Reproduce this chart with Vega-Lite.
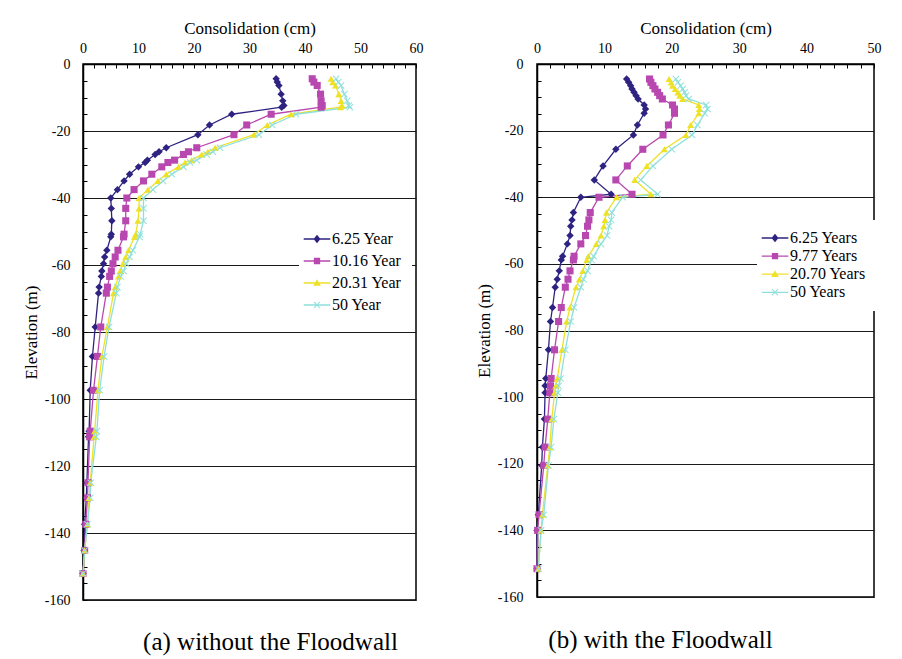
{
 "$schema": "https://vega.github.io/schema/vega-lite/v6.json",
 "background": "white",
 "padding": {"left": 21, "top": 18, "right": 5, "bottom": 5},
 "spacing": 50,
 "config": {
  "view": {"stroke": "black", "strokeWidth": 1.5},
  "font": "Liberation Serif",
  "axis": {"labelFont": "Liberation Serif", "titleFont": "Liberation Serif", "labelFontSize": 14, "titleFontSize": 17, "titleFontWeight": "normal", "labelColor": "black", "titleColor": "black", "tickColor": "black", "tickWidth": 1, "domainColor": "black", "domainWidth": 1.5, "labelFlush": false, "labelOverlap": false, "labelBound": false, "gridColor": "#1a1a1a", "gridWidth": 1},
  "legend": {"labelFont": "Liberation Serif", "labelFontSize": 16, "labelColor": "black"},
  "title": {"font": "Liberation Serif", "fontSize": 25, "fontWeight": "normal", "color": "black"}
 },
 "resolve": {"scale": {"x": "independent", "y": "independent", "color": "independent", "shape": "independent", "fill": "independent", "stroke": "independent"}, "legend": {"color": "independent", "shape": "independent"}},
 "datasets": {
  "a": [
   {"s":"6.25 Year","x":34.8,"e":-4.4},{"s":"6.25 Year","x":35.0,"e":-5.4},{"s":"6.25 Year","x":35.3,"e":-6.4},{"s":"6.25 Year","x":35.7,"e":-9.0},{"s":"6.25 Year","x":36.0,"e":-11.0},{"s":"6.25 Year","x":36.2,"e":-12.4},{"s":"6.25 Year","x":35.8,"e":-12.9},{"s":"6.25 Year","x":26.8,"e":-15.0},{"s":"6.25 Year","x":22.8,"e":-18.2},{"s":"6.25 Year","x":20.7,"e":-21.1},{"s":"6.25 Year","x":15.0,"e":-25.0},{"s":"6.25 Year","x":13.7,"e":-26.2},{"s":"6.25 Year","x":13.0,"e":-27.0},{"s":"6.25 Year","x":11.6,"e":-28.7},{"s":"6.25 Year","x":11.2,"e":-29.4},{"s":"6.25 Year","x":10.0,"e":-30.7},{"s":"6.25 Year","x":8.4,"e":-32.9},{"s":"6.25 Year","x":7.4,"e":-34.9},{"s":"6.25 Year","x":6.2,"e":-37.5},{"s":"6.25 Year","x":5.0,"e":-40.0},{"s":"6.25 Year","x":5.1,"e":-43.1},{"s":"6.25 Year","x":5.2,"e":-46.8},{"s":"6.25 Year","x":5.1,"e":-50.8},{"s":"6.25 Year","x":5.0,"e":-51.6},{"s":"6.25 Year","x":4.3,"e":-55.6},{"s":"6.25 Year","x":3.9,"e":-57.6},{"s":"6.25 Year","x":3.7,"e":-59.6},{"s":"6.25 Year","x":3.4,"e":-61.8},{"s":"6.25 Year","x":3.3,"e":-63.4},{"s":"6.25 Year","x":2.9,"e":-66.6},{"s":"6.25 Year","x":2.8,"e":-68.4},{"s":"6.25 Year","x":2.2,"e":-78.5},{"s":"6.25 Year","x":1.7,"e":-87.3},{"s":"6.25 Year","x":1.3,"e":-97.4},{"s":"6.25 Year","x":1.1,"e":-109.6},{"s":"6.25 Year","x":1.0,"e":-111.3},{"s":"6.25 Year","x":0.7,"e":-125.0},{"s":"6.25 Year","x":0.6,"e":-129.5},{"s":"6.25 Year","x":0.3,"e":-137.4},{"s":"6.25 Year","x":0.2,"e":-145.2},{"s":"6.25 Year","x":0.0,"e":-152.1},
   {"s":"10.16 Year","x":41.3,"e":-4.4},{"s":"10.16 Year","x":41.6,"e":-5.4},{"s":"10.16 Year","x":42.2,"e":-6.4},{"s":"10.16 Year","x":42.8,"e":-9.0},{"s":"10.16 Year","x":42.9,"e":-11.0},{"s":"10.16 Year","x":43.1,"e":-12.4},{"s":"10.16 Year","x":42.9,"e":-12.9},{"s":"10.16 Year","x":33.9,"e":-15.0},{"s":"10.16 Year","x":29.5,"e":-18.2},{"s":"10.16 Year","x":27.2,"e":-21.1},{"s":"10.16 Year","x":20.5,"e":-25.0},{"s":"10.16 Year","x":19.0,"e":-26.2},{"s":"10.16 Year","x":18.1,"e":-27.0},{"s":"10.16 Year","x":16.5,"e":-28.7},{"s":"10.16 Year","x":15.3,"e":-29.4},{"s":"10.16 Year","x":14.2,"e":-30.7},{"s":"10.16 Year","x":12.4,"e":-32.9},{"s":"10.16 Year","x":10.9,"e":-34.9},{"s":"10.16 Year","x":9.2,"e":-37.5},{"s":"10.16 Year","x":7.9,"e":-40.0},{"s":"10.16 Year","x":7.7,"e":-43.1},{"s":"10.16 Year","x":7.7,"e":-46.8},{"s":"10.16 Year","x":7.4,"e":-50.8},{"s":"10.16 Year","x":7.3,"e":-51.6},{"s":"10.16 Year","x":6.3,"e":-55.6},{"s":"10.16 Year","x":5.8,"e":-57.6},{"s":"10.16 Year","x":5.4,"e":-59.6},{"s":"10.16 Year","x":5.1,"e":-61.8},{"s":"10.16 Year","x":4.8,"e":-63.4},{"s":"10.16 Year","x":4.4,"e":-66.6},{"s":"10.16 Year","x":4.2,"e":-68.4},{"s":"10.16 Year","x":3.2,"e":-78.5},{"s":"10.16 Year","x":2.6,"e":-87.3},{"s":"10.16 Year","x":1.9,"e":-97.4},{"s":"10.16 Year","x":1.3,"e":-109.6},{"s":"10.16 Year","x":1.2,"e":-111.3},{"s":"10.16 Year","x":0.9,"e":-125.0},{"s":"10.16 Year","x":0.8,"e":-129.5},{"s":"10.16 Year","x":0.5,"e":-137.4},{"s":"10.16 Year","x":0.3,"e":-145.2},{"s":"10.16 Year","x":0.0,"e":-152.1},
   {"s":"20.31 Year","x":44.7,"e":-4.4},{"s":"20.31 Year","x":45.0,"e":-5.4},{"s":"20.31 Year","x":45.5,"e":-6.4},{"s":"20.31 Year","x":46.1,"e":-9.0},{"s":"20.31 Year","x":46.5,"e":-11.0},{"s":"20.31 Year","x":46.7,"e":-12.4},{"s":"20.31 Year","x":46.4,"e":-12.9},{"s":"20.31 Year","x":37.5,"e":-15.0},{"s":"20.31 Year","x":33.2,"e":-18.2},{"s":"20.31 Year","x":30.8,"e":-21.1},{"s":"20.31 Year","x":23.8,"e":-25.0},{"s":"20.31 Year","x":22.5,"e":-26.2},{"s":"20.31 Year","x":21.4,"e":-27.0},{"s":"20.31 Year","x":19.6,"e":-28.7},{"s":"20.31 Year","x":18.4,"e":-29.4},{"s":"20.31 Year","x":17.2,"e":-30.7},{"s":"20.31 Year","x":15.0,"e":-32.9},{"s":"20.31 Year","x":13.5,"e":-34.9},{"s":"20.31 Year","x":11.7,"e":-37.5},{"s":"20.31 Year","x":10.1,"e":-40.0},{"s":"20.31 Year","x":10.1,"e":-43.1},{"s":"20.31 Year","x":9.9,"e":-46.8},{"s":"20.31 Year","x":9.5,"e":-50.8},{"s":"20.31 Year","x":9.3,"e":-51.6},{"s":"20.31 Year","x":8.2,"e":-55.6},{"s":"20.31 Year","x":7.7,"e":-57.6},{"s":"20.31 Year","x":7.2,"e":-59.6},{"s":"20.31 Year","x":6.7,"e":-61.8},{"s":"20.31 Year","x":6.4,"e":-63.4},{"s":"20.31 Year","x":5.8,"e":-66.6},{"s":"20.31 Year","x":5.5,"e":-68.4},{"s":"20.31 Year","x":4.4,"e":-78.5},{"s":"20.31 Year","x":3.4,"e":-87.3},{"s":"20.31 Year","x":2.7,"e":-97.4},{"s":"20.31 Year","x":2.1,"e":-109.6},{"s":"20.31 Year","x":2.0,"e":-111.3},{"s":"20.31 Year","x":1.3,"e":-125.0},{"s":"20.31 Year","x":1.1,"e":-129.5},{"s":"20.31 Year","x":0.8,"e":-137.4},{"s":"20.31 Year","x":0.3,"e":-145.2},{"s":"20.31 Year","x":0.0,"e":-152.1},
   {"s":"50 Year","x":45.6,"e":-4.4},{"s":"50 Year","x":46.0,"e":-5.4},{"s":"50 Year","x":46.5,"e":-6.4},{"s":"50 Year","x":47.1,"e":-9.0},{"s":"50 Year","x":47.6,"e":-11.0},{"s":"50 Year","x":47.9,"e":-12.4},{"s":"50 Year","x":48.1,"e":-12.9},{"s":"50 Year","x":38.4,"e":-15.0},{"s":"50 Year","x":34.1,"e":-18.2},{"s":"50 Year","x":31.7,"e":-21.1},{"s":"50 Year","x":24.7,"e":-25.0},{"s":"50 Year","x":23.4,"e":-26.2},{"s":"50 Year","x":22.3,"e":-27.0},{"s":"50 Year","x":20.5,"e":-28.7},{"s":"50 Year","x":19.3,"e":-29.4},{"s":"50 Year","x":18.1,"e":-30.7},{"s":"50 Year","x":16.0,"e":-32.9},{"s":"50 Year","x":14.4,"e":-34.9},{"s":"50 Year","x":12.6,"e":-37.5},{"s":"50 Year","x":10.9,"e":-40.0},{"s":"50 Year","x":10.9,"e":-43.1},{"s":"50 Year","x":10.9,"e":-46.8},{"s":"50 Year","x":10.3,"e":-50.8},{"s":"50 Year","x":10.2,"e":-51.6},{"s":"50 Year","x":9.0,"e":-55.6},{"s":"50 Year","x":8.4,"e":-57.6},{"s":"50 Year","x":7.8,"e":-59.6},{"s":"50 Year","x":7.3,"e":-61.8},{"s":"50 Year","x":6.8,"e":-63.4},{"s":"50 Year","x":6.2,"e":-66.6},{"s":"50 Year","x":6.0,"e":-68.4},{"s":"50 Year","x":4.7,"e":-78.5},{"s":"50 Year","x":3.8,"e":-87.3},{"s":"50 Year","x":3.0,"e":-97.4},{"s":"50 Year","x":2.5,"e":-109.6},{"s":"50 Year","x":2.4,"e":-111.3},{"s":"50 Year","x":1.4,"e":-125.0},{"s":"50 Year","x":1.3,"e":-129.5},{"s":"50 Year","x":0.8,"e":-137.4},{"s":"50 Year","x":0.3,"e":-145.2},{"s":"50 Year","x":0.0,"e":-152.1}
  ],
  "b": [
   {"s":"6.25 Years","x":13.3,"e":-4.5},{"s":"6.25 Years","x":13.6,"e":-5.5},{"s":"6.25 Years","x":13.9,"e":-6.5},{"s":"6.25 Years","x":14.1,"e":-7.5},{"s":"6.25 Years","x":14.4,"e":-8.5},{"s":"6.25 Years","x":14.7,"e":-9.5},{"s":"6.25 Years","x":15.0,"e":-10.5},{"s":"6.25 Years","x":15.9,"e":-12.3},{"s":"6.25 Years","x":16.1,"e":-13.5},{"s":"6.25 Years","x":15.9,"e":-14.8},{"s":"6.25 Years","x":14.9,"e":-18.3},{"s":"6.25 Years","x":14.3,"e":-21.3},{"s":"6.25 Years","x":11.7,"e":-25.6},{"s":"6.25 Years","x":9.8,"e":-30.6},{"s":"6.25 Years","x":8.5,"e":-34.8},{"s":"6.25 Years","x":11.0,"e":-39.1},{"s":"6.25 Years","x":6.5,"e":-40.0},{"s":"6.25 Years","x":5.4,"e":-44.6},{"s":"6.25 Years","x":5.2,"e":-46.8},{"s":"6.25 Years","x":5.0,"e":-48.7},{"s":"6.25 Years","x":4.9,"e":-51.5},{"s":"6.25 Years","x":4.5,"e":-54.0},{"s":"6.25 Years","x":3.8,"e":-57.7},{"s":"6.25 Years","x":3.6,"e":-58.8},{"s":"6.25 Years","x":3.3,"e":-62.1},{"s":"6.25 Years","x":3.0,"e":-64.6},{"s":"6.25 Years","x":2.7,"e":-67.0},{"s":"6.25 Years","x":2.3,"e":-73.1},{"s":"6.25 Years","x":2.0,"e":-77.3},{"s":"6.25 Years","x":1.7,"e":-85.8},{"s":"6.25 Years","x":1.3,"e":-94.4},{"s":"6.25 Years","x":1.2,"e":-96.6},{"s":"6.25 Years","x":1.2,"e":-98.7},{"s":"6.25 Years","x":1.1,"e":-106.6},{"s":"6.25 Years","x":0.8,"e":-115.0},{"s":"6.25 Years","x":0.7,"e":-120.5},{"s":"6.25 Years","x":0.2,"e":-135.3},{"s":"6.25 Years","x":0.0,"e":-140.0},{"s":"6.25 Years","x":0.0,"e":-151.5},
   {"s":"9.77 Years","x":16.7,"e":-4.5},{"s":"9.77 Years","x":16.9,"e":-5.5},{"s":"9.77 Years","x":17.2,"e":-6.5},{"s":"9.77 Years","x":17.5,"e":-7.5},{"s":"9.77 Years","x":17.9,"e":-8.5},{"s":"9.77 Years","x":18.2,"e":-9.5},{"s":"9.77 Years","x":18.6,"e":-10.5},{"s":"9.77 Years","x":20.1,"e":-12.3},{"s":"9.77 Years","x":20.4,"e":-13.5},{"s":"9.77 Years","x":20.4,"e":-14.8},{"s":"9.77 Years","x":19.5,"e":-18.3},{"s":"9.77 Years","x":18.7,"e":-21.3},{"s":"9.77 Years","x":15.7,"e":-25.6},{"s":"9.77 Years","x":13.4,"e":-30.6},{"s":"9.77 Years","x":11.7,"e":-34.8},{"s":"9.77 Years","x":14.1,"e":-39.1},{"s":"9.77 Years","x":9.2,"e":-40.0},{"s":"9.77 Years","x":7.9,"e":-44.6},{"s":"9.77 Years","x":7.7,"e":-46.8},{"s":"9.77 Years","x":7.5,"e":-48.7},{"s":"9.77 Years","x":7.2,"e":-51.5},{"s":"9.77 Years","x":6.5,"e":-54.0},{"s":"9.77 Years","x":5.5,"e":-57.7},{"s":"9.77 Years","x":5.4,"e":-58.8},{"s":"9.77 Years","x":4.9,"e":-62.1},{"s":"9.77 Years","x":4.6,"e":-64.6},{"s":"9.77 Years","x":4.2,"e":-67.0},{"s":"9.77 Years","x":3.6,"e":-73.1},{"s":"9.77 Years","x":3.2,"e":-77.3},{"s":"9.77 Years","x":2.6,"e":-85.8},{"s":"9.77 Years","x":2.1,"e":-94.4},{"s":"9.77 Years","x":2.0,"e":-96.6},{"s":"9.77 Years","x":1.9,"e":-98.7},{"s":"9.77 Years","x":1.6,"e":-106.6},{"s":"9.77 Years","x":1.2,"e":-115.0},{"s":"9.77 Years","x":1.0,"e":-120.5},{"s":"9.77 Years","x":0.3,"e":-135.3},{"s":"9.77 Years","x":0.1,"e":-140.0},{"s":"9.77 Years","x":0.0,"e":-151.5},
   {"s":"20.70 Years","x":19.6,"e":-4.5},{"s":"20.70 Years","x":19.9,"e":-5.5},{"s":"20.70 Years","x":20.1,"e":-6.5},{"s":"20.70 Years","x":20.5,"e":-7.5},{"s":"20.70 Years","x":20.9,"e":-8.5},{"s":"20.70 Years","x":21.2,"e":-9.5},{"s":"20.70 Years","x":21.6,"e":-10.5},{"s":"20.70 Years","x":24.0,"e":-12.3},{"s":"20.70 Years","x":24.1,"e":-13.5},{"s":"20.70 Years","x":24.0,"e":-14.8},{"s":"20.70 Years","x":22.8,"e":-18.3},{"s":"20.70 Years","x":22.1,"e":-21.3},{"s":"20.70 Years","x":18.9,"e":-25.6},{"s":"20.70 Years","x":16.3,"e":-30.6},{"s":"20.70 Years","x":14.5,"e":-34.8},{"s":"20.70 Years","x":16.9,"e":-39.1},{"s":"20.70 Years","x":11.8,"e":-40.0},{"s":"20.70 Years","x":10.3,"e":-44.6},{"s":"20.70 Years","x":10.1,"e":-46.8},{"s":"20.70 Years","x":9.9,"e":-48.7},{"s":"20.70 Years","x":9.5,"e":-51.5},{"s":"20.70 Years","x":8.8,"e":-54.0},{"s":"20.70 Years","x":7.6,"e":-57.7},{"s":"20.70 Years","x":7.4,"e":-58.8},{"s":"20.70 Years","x":6.8,"e":-62.1},{"s":"20.70 Years","x":6.3,"e":-64.6},{"s":"20.70 Years","x":5.8,"e":-67.0},{"s":"20.70 Years","x":4.9,"e":-73.1},{"s":"20.70 Years","x":4.4,"e":-77.3},{"s":"20.70 Years","x":3.7,"e":-85.8},{"s":"20.70 Years","x":3.0,"e":-94.4},{"s":"20.70 Years","x":2.8,"e":-96.6},{"s":"20.70 Years","x":2.6,"e":-98.7},{"s":"20.70 Years","x":2.2,"e":-106.6},{"s":"20.70 Years","x":1.9,"e":-115.0},{"s":"20.70 Years","x":1.6,"e":-120.5},{"s":"20.70 Years","x":0.8,"e":-135.3},{"s":"20.70 Years","x":0.6,"e":-140.0},{"s":"20.70 Years","x":0.2,"e":-151.5},
   {"s":"50 Years","x":20.6,"e":-4.5},{"s":"50 Years","x":20.9,"e":-5.5},{"s":"50 Years","x":21.3,"e":-6.5},{"s":"50 Years","x":21.6,"e":-7.5},{"s":"50 Years","x":21.9,"e":-8.5},{"s":"50 Years","x":22.1,"e":-9.5},{"s":"50 Years","x":22.5,"e":-10.5},{"s":"50 Years","x":25.1,"e":-12.3},{"s":"50 Years","x":25.3,"e":-13.5},{"s":"50 Years","x":24.9,"e":-14.8},{"s":"50 Years","x":23.8,"e":-18.3},{"s":"50 Years","x":23.0,"e":-21.3},{"s":"50 Years","x":20.0,"e":-25.6},{"s":"50 Years","x":17.2,"e":-30.6},{"s":"50 Years","x":15.4,"e":-34.8},{"s":"50 Years","x":17.9,"e":-39.1},{"s":"50 Years","x":12.7,"e":-40.0},{"s":"50 Years","x":11.1,"e":-44.6},{"s":"50 Years","x":11.0,"e":-46.8},{"s":"50 Years","x":10.7,"e":-48.7},{"s":"50 Years","x":10.4,"e":-51.5},{"s":"50 Years","x":9.5,"e":-54.0},{"s":"50 Years","x":8.4,"e":-57.7},{"s":"50 Years","x":8.1,"e":-58.8},{"s":"50 Years","x":7.5,"e":-62.1},{"s":"50 Years","x":6.9,"e":-64.6},{"s":"50 Years","x":6.5,"e":-67.0},{"s":"50 Years","x":5.5,"e":-73.1},{"s":"50 Years","x":5.0,"e":-77.3},{"s":"50 Years","x":4.2,"e":-85.8},{"s":"50 Years","x":3.5,"e":-94.4},{"s":"50 Years","x":3.2,"e":-96.6},{"s":"50 Years","x":3.1,"e":-98.7},{"s":"50 Years","x":2.5,"e":-106.6},{"s":"50 Years","x":2.1,"e":-115.0},{"s":"50 Years","x":1.7,"e":-120.5},{"s":"50 Years","x":1.0,"e":-135.3},{"s":"50 Years","x":0.6,"e":-140.0},{"s":"50 Years","x":0.2,"e":-151.5}
  ]
 },
 "hconcat": [
  {
   "width": 333, "height": 536,
   "title": {"text": "(a) without the Floodwall", "orient": "bottom", "offset": 23, "dx": 21, "frame": "group", "anchor": "middle"},
   "data": {"name": "a"},
   "encoding": {
    "x": {"field": "x", "type": "quantitative", "scale": {"domain": [0, 60], "nice": false, "zero": false},
          "axis": {"orient": "top", "title": "Consolidation (cm)", "values": [0,2,4,6,8,10,12,14,16,18,20,22,24,26,28,30,32,34,36,38,40,42,44,46,48,50,52,54,56,58,60], "labelExpr": "datum.value % 10 === 0 ? '' + datum.value : ''", "tickSize": -4, "labelPadding": 13, "titlePadding": 4, "grid": false}},
    "y": {"field": "e", "type": "quantitative", "scale": {"domain": [-160, 0], "nice": false, "zero": false},
          "axis": {"title": "Elevation (m)", "values": [0,-5,-10,-15,-20,-25,-30,-35,-40,-45,-50,-55,-60,-65,-70,-75,-80,-85,-90,-95,-100,-105,-110,-115,-120,-125,-130,-135,-140,-145,-150,-155,-160], "labelExpr": "datum.value % 20 === 0 ? '' + datum.value : ''", "tickSize": -4, "labelPadding": 17, "titlePadding": 4, "grid": true, "gridOpacity": {"condition": {"test": "datum.value % 20 === 0", "value": 1}, "value": 0}}},
    "order": {"field": "e", "type": "quantitative", "sort": "descending"}
   },
   "layer": [
    {"mark": {"type": "line", "strokeWidth": 1.3},
     "encoding": {"stroke": {"field": "s", "type": "nominal", "scale": {"domain": ["50 Year", "20.31 Year", "10.16 Year", "6.25 Year"], "range": ["#8FE0DC", "#EFE126", "#B848B0", "#2E2381"]}, "legend": null}}},
    {"transform": [{"filter": "datum.s === '6.25 Year'"}],
     "mark": {"type": "point", "shape": "diamond", "filled": true, "size": 55, "opacity": 1},
     "encoding": {"fill": {"field": "s", "type": "nominal", "scale": {"domain": ["50 Year", "20.31 Year", "10.16 Year", "6.25 Year"], "range": ["#8FE0DC", "#EFE126", "#B848B0", "#2E2381"]}, "legend": null}}},
    {"transform": [{"filter": "datum.s === '10.16 Year'"}],
     "mark": {"type": "point", "shape": "square", "filled": true, "size": 50, "opacity": 1},
     "encoding": {"fill": {"field": "s", "type": "nominal", "legend": null}}},
    {"transform": [{"filter": "datum.s === '20.31 Year'"}],
     "mark": {"type": "point", "shape": "triangle-up", "filled": true, "size": 50, "opacity": 1},
     "encoding": {"fill": {"field": "s", "type": "nominal", "legend": null}}},
    {"transform": [{"filter": "datum.s === '50 Year'"}],
     "mark": {"type": "point", "shape": "M-1,-0.8L-0.8,-1L0,-0.2L0.8,-1L1,-0.8L0.2,0L1,0.8L0.8,1L0,0.2L-0.8,1L-1,0.8L-0.2,0Z", "filled": true, "size": 50, "opacity": 1},
     "encoding": {"fill": {"field": "s", "type": "nominal", "legend": null}}},
    {"mark": {"type": "point", "filled": true, "size": 50, "opacity": 0},
     "encoding": {
      "color": {"field": "s", "type": "nominal", "scale": {"domain": ["6.25 Year", "10.16 Year", "20.31 Year", "50 Year"], "range": ["#2E2381", "#B848B0", "#EFE126", "#8FE0DC"]},
                "legend": {"title": null, "orient": "none", "legendX": 216, "legendY": 157, "padding": 10, "fillColor": "white", "symbolSize": 196, "symbolOpacity": 1, "symbolStrokeWidth": 0, "labelOffset": 7, "rowPadding": 6, "labelFontSize": 16, "labelFont": "Liberation Serif"}},
      "shape": {"field": "s", "type": "nominal",
                "scale": {"domain": ["6.25 Year", "10.16 Year", "20.31 Year", "50 Year"], "range": ["M-1.9,-0.09H1.9V0.09H-1.9Z M-0.5,0L0,-0.6L0.5,0L0,0.6Z", "M-1.9,-0.09H1.9V0.09H-1.9Z M-0.45,-0.45H0.45V0.45H-0.45Z", "M-1.9,-0.09H1.9V0.09H-1.9Z M0,-0.55L0.55,0.4H-0.55Z", "M-1.9,-0.09H1.9V0.09H-1.9Z M-0.5,-0.4L-0.4,-0.5L0,-0.1L0.4,-0.5L0.5,-0.4L0.1,0L0.5,0.4L0.4,0.5L0,0.1L-0.4,0.5L-0.5,0.4L-0.1,0Z"]},
                "legend": {"title": null, "orient": "none", "legendX": 216, "legendY": 157, "padding": 10, "fillColor": "white", "symbolSize": 196, "symbolOpacity": 1, "symbolStrokeWidth": 0, "labelOffset": 7, "rowPadding": 6, "labelFontSize": 16, "labelFont": "Liberation Serif"}}
     }}
   ]
  },
  {
   "width": 337, "height": 533,
   "title": {"text": "(b) with the Floodwall", "orient": "bottom", "offset": 24, "dx": -45, "frame": "group", "anchor": "middle"},
   "data": {"name": "b"},
   "encoding": {
    "x": {"field": "x", "type": "quantitative", "scale": {"domain": [0, 50], "nice": false, "zero": false},
          "axis": {"orient": "top", "title": "Consolidation (cm)", "values": [0,2,4,6,8,10,12,14,16,18,20,22,24,26,28,30,32,34,36,38,40,42,44,46,48,50], "labelExpr": "datum.value % 10 === 0 ? '' + datum.value : ''", "tickSize": -4, "labelPadding": 13, "titlePadding": 4, "grid": false}},
    "y": {"field": "e", "type": "quantitative", "scale": {"domain": [-160, 0], "nice": false, "zero": false},
          "axis": {"title": "Elevation (m)", "values": [0,-5,-10,-15,-20,-25,-30,-35,-40,-45,-50,-55,-60,-65,-70,-75,-80,-85,-90,-95,-100,-105,-110,-115,-120,-125,-130,-135,-140,-145,-150,-155,-160], "labelExpr": "datum.value % 20 === 0 ? '' + datum.value : ''", "tickSize": -4, "labelPadding": 18, "titlePadding": 4, "grid": true, "gridOpacity": {"condition": {"test": "datum.value % 20 === 0", "value": 1}, "value": 0}}},
    "order": {"field": "e", "type": "quantitative", "sort": "descending"}
   },
   "layer": [
    {"mark": {"type": "line", "strokeWidth": 1.3},
     "encoding": {"stroke": {"field": "s", "type": "nominal", "scale": {"domain": ["50 Years", "20.70 Years", "9.77 Years", "6.25 Years"], "range": ["#8FE0DC", "#EFE126", "#B848B0", "#2E2381"]}, "legend": null}}},
    {"transform": [{"filter": "datum.s === '6.25 Years'"}],
     "mark": {"type": "point", "shape": "diamond", "filled": true, "size": 55, "opacity": 1},
     "encoding": {"fill": {"field": "s", "type": "nominal", "scale": {"domain": ["50 Years", "20.70 Years", "9.77 Years", "6.25 Years"], "range": ["#8FE0DC", "#EFE126", "#B848B0", "#2E2381"]}, "legend": null}}},
    {"transform": [{"filter": "datum.s === '9.77 Years'"}],
     "mark": {"type": "point", "shape": "square", "filled": true, "size": 50, "opacity": 1},
     "encoding": {"fill": {"field": "s", "type": "nominal", "legend": null}}},
    {"transform": [{"filter": "datum.s === '20.70 Years'"}],
     "mark": {"type": "point", "shape": "triangle-up", "filled": true, "size": 50, "opacity": 1},
     "encoding": {"fill": {"field": "s", "type": "nominal", "legend": null}}},
    {"transform": [{"filter": "datum.s === '50 Years'"}],
     "mark": {"type": "point", "shape": "M-1,-0.8L-0.8,-1L0,-0.2L0.8,-1L1,-0.8L0.2,0L1,0.8L0.8,1L0,0.2L-0.8,1L-1,0.8L-0.2,0Z", "filled": true, "size": 50, "opacity": 1},
     "encoding": {"fill": {"field": "s", "type": "nominal", "legend": null}}},
    {"mark": {"type": "point", "filled": true, "size": 50, "opacity": 0},
     "encoding": {
      "color": {"field": "s", "type": "nominal", "scale": {"domain": ["6.25 Years", "9.77 Years", "20.70 Years", "50 Years"], "range": ["#2E2381", "#B848B0", "#EFE126", "#8FE0DC"]},
                "legend": {"title": null, "orient": "none", "legendX": 220, "legendY": 156, "padding": 10, "fillColor": "white", "symbolSize": 196, "symbolOpacity": 1, "symbolStrokeWidth": 0, "labelOffset": 7, "rowPadding": 2.1, "labelFontSize": 16, "labelFont": "Liberation Serif"}},
      "shape": {"field": "s", "type": "nominal",
                "scale": {"domain": ["6.25 Years", "9.77 Years", "20.70 Years", "50 Years"], "range": ["M-1.9,-0.09H1.9V0.09H-1.9Z M-0.5,0L0,-0.6L0.5,0L0,0.6Z", "M-1.9,-0.09H1.9V0.09H-1.9Z M-0.45,-0.45H0.45V0.45H-0.45Z", "M-1.9,-0.09H1.9V0.09H-1.9Z M0,-0.55L0.55,0.4H-0.55Z", "M-1.9,-0.09H1.9V0.09H-1.9Z M-0.5,-0.4L-0.4,-0.5L0,-0.1L0.4,-0.5L0.5,-0.4L0.1,0L0.5,0.4L0.4,0.5L0,0.1L-0.4,0.5L-0.5,0.4L-0.1,0Z"]},
                "legend": {"title": null, "orient": "none", "legendX": 220, "legendY": 156, "padding": 10, "fillColor": "white", "symbolSize": 196, "symbolOpacity": 1, "symbolStrokeWidth": 0, "labelOffset": 7, "rowPadding": 2.1, "labelFontSize": 16, "labelFont": "Liberation Serif"}}
     }}
   ]
  }
 ]
}
